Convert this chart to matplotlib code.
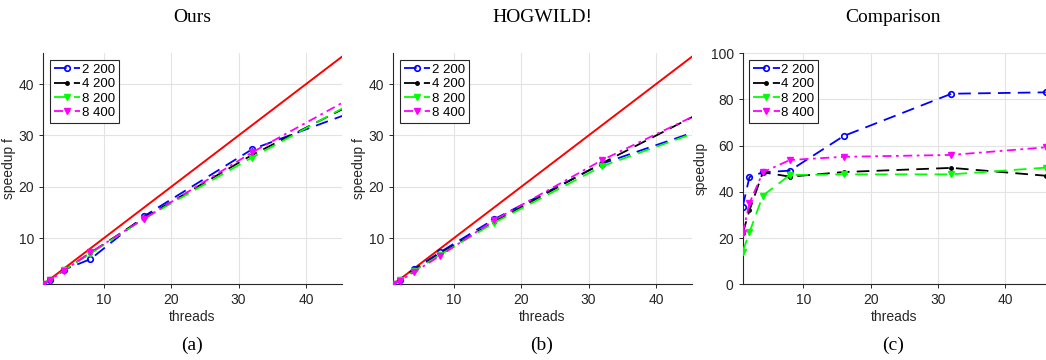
import matplotlib
matplotlib.use("Agg")
import matplotlib.pyplot as plt

# thread counts used in all runs
threads = [1, 2, 4, 8, 16, 32, 46]

# (a) Ours - speedup f
ours_2_200 = [1.0, 1.8, 3.8, 5.9, 14.3, 27.3, 34.1]
ours_4_200 = [1.0, 1.9, 3.7, 7.1, 14.0, 26.2, 35.5]
ours_8_200 = [1.0, 1.9, 3.7, 7.0, 13.8, 25.7, 35.7]
ours_8_400 = [1.0, 1.8, 3.6, 7.2, 13.8, 26.7, 36.8]

# (b) HOGWILD! - speedup f
hog_2_200 = [1.0, 1.9, 3.9, 7.3, 13.7, 24.5, 30.8]
hog_4_200 = [1.0, 1.9, 3.7, 7.0, 13.2, 24.6, 34.0]
hog_8_200 = [1.0, 1.8, 3.5, 6.8, 13.0, 24.0, 30.6]
hog_8_400 = [1.0, 1.7, 3.3, 6.6, 13.5, 25.2, 34.0]

# (c) Comparison - speedup
cmp_2_200 = [33.6, 46.4, 48.5, 49.2, 64.2, 82.5, 83.1]
cmp_4_200 = [22.0, 32.0, 48.5, 46.6, 48.6, 50.4, 47.0]
cmp_8_200 = [14.1, 22.5, 38.4, 47.3, 47.6, 47.6, 50.5]
cmp_8_400 = [22.1, 35.1, 48.5, 53.8, 55.2, 56.0, 59.3]

labels = ["2 200", "4 200", "8 200", "8 400"]
ideal = [1, 46]

sans = "Liberation Sans"
serif = "Liberation Serif"
plt.rcParams["font.family"] = sans

fig = plt.figure(figsize=(10.46, 3.6), dpi=100)
W, H = 1046.0, 360.0
bottom = (H - 284.3) / H
height = (284.3 - 53.3) / H
ax_a = fig.add_axes([43.3 / W, bottom, 298.4 / W, height])
ax_b = fig.add_axes([393.3 / W, bottom, 298.4 / W, height])
ax_c = fig.add_axes([742.7 / W, bottom, 303.3 / W, height])


def draw(ax, s1, s2, s3, s4, with_ideal):
    if with_ideal:
        ax.plot(ideal, ideal, color=(1, 0, 0), lw=1.4, zorder=2)
    ax.plot(threads, s1, color=(0, 0, 1), ls=(0, (7, 4)), lw=1.3, marker="o",
            ms=4, mfc="none", mew=1.2, label=labels[0], zorder=3)
    ax.plot(threads, s2, color="black", ls=(0, (7, 4)), lw=1.3, marker=".",
            ms=5, label=labels[1], zorder=3)
    ax.plot(threads, s3, color=(0, 1, 0), ls=(0, (7, 4)), lw=1.3, marker="v",
            ms=5, label=labels[2], zorder=3)
    ax.plot(threads, s4, color=(1, 0, 1), ls=(0, (5, 2.5, 1.5, 2.5)), lw=1.3,
            marker="v", ms=5, label=labels[3], zorder=4)
    ax.grid(True, color="#e3e3e3", lw=0.8)
    ax.set_axisbelow(True)
    for side in ["top", "right"]:
        ax.spines[side].set_visible(False)
    for side in ["left", "bottom"]:
        ax.spines[side].set_color("#262626")
        ax.spines[side].set_linewidth(0.8)
    ax.tick_params(direction="out", length=3, width=0.7, colors="#262626",
                   labelsize=10, labelcolor="#262626")
    ax.set_xticks([10, 20, 30, 40])
    ax.set_xlabel("threads", fontsize=10, color="#262626", labelpad=2)
    leg = ax.legend(loc="upper left", fontsize=9.5, handlelength=2.0,
                    handletextpad=0.1, borderpad=0.3, labelspacing=0.15,
                    borderaxespad=0.5, fancybox=False, framealpha=1,
                    edgecolor="#262626")
    leg.get_frame().set_linewidth(0.8)


draw(ax_a, ours_2_200, ours_4_200, ours_8_200, ours_8_400, True)
draw(ax_b, hog_2_200, hog_4_200, hog_8_200, hog_8_400, True)
draw(ax_c, cmp_2_200, cmp_4_200, cmp_8_200, cmp_8_400, False)

for ax in (ax_a, ax_b):
    ax.set_xlim(1, 45.3)
    ax.set_ylim(1, 46)
    ax.set_yticks([10, 20, 30, 40])
    ax.set_ylabel("speedup f", fontsize=10, color="#262626", labelpad=2)

ax_c.set_xlim(1, 46.05)
ax_c.set_ylim(0, 100)
ax_c.set_yticks([0, 20, 40, 60, 80, 100])
ax_c.set_ylabel("speedup", fontsize=10, color="#262626", labelpad=2)

titles = ["Ours", "HOGWILD!", "Comparison"]
captions = ["(a)", "(b)", "(c)"]
centers = [192, 542, 893]
for t, c, x in zip(titles, captions, centers):
    fig.text(x / W, 1 - 17 / H, t, family=serif, fontsize=14,
             ha="center", va="center")
    fig.text(x / W, 1 - 345 / H, c, family=serif, fontsize=14,
             ha="center", va="center")

fig.savefig("out.png", dpi=100)
